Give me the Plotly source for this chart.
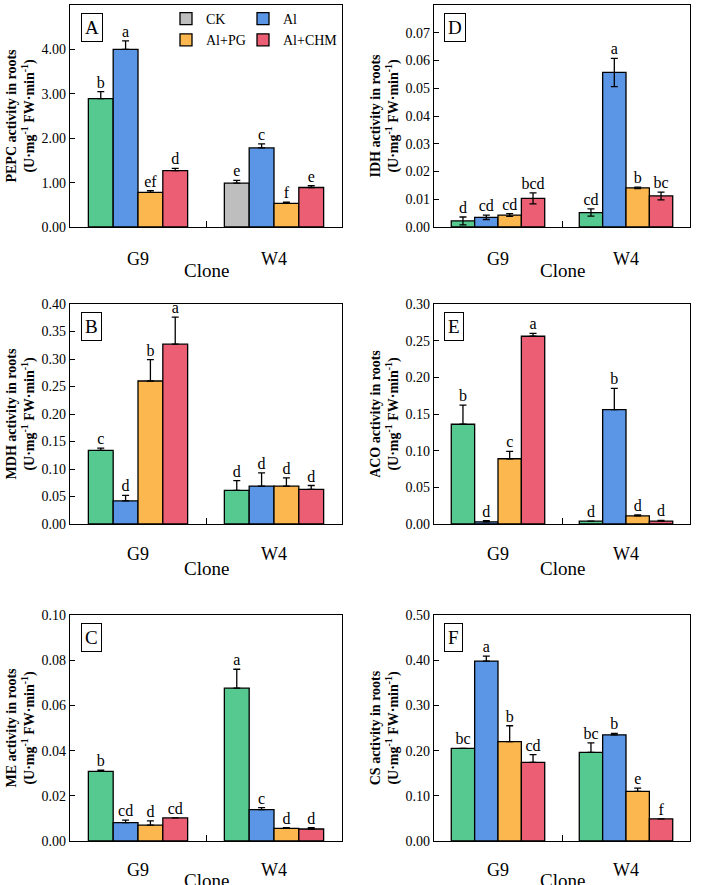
import plotly.graph_objects as go
from plotly.subplots import make_subplots

clones = ["G9", "W4"]
treatments = ["CK", "Al", "Al+PG", "Al+CHM"]
colors = ["#55C98F", "#5B95E6", "#FDB74F", "#EB5E73"]
ck_gray = "#BEBEBE"

# means per treatment (rows: CK, Al, Al+PG, Al+CHM; cols: G9, W4)
pepc_mean = [[2.89, 0.99], [4.00, 1.78], [0.78, 0.53], [1.27, 0.89]]
pepc_err = [[0.16, 0.06], [0.19, 0.09], [0.04, 0.03], [0.05, 0.04]]
pepc_let = [["b", "e"], ["a", "c"], ["ef", "f"], ["d", "e"]]

idh_mean = [[0.0022, 0.0052], [0.0035, 0.0557], [0.0043, 0.0141], [0.0103, 0.0112]]
idh_err = [[0.0014, 0.0013], [0.0008, 0.0051], [0.0005, 0.0003], [0.0020, 0.0014]]
idh_let = [["d", "cd"], ["cd", "a"], ["cd", "b"], ["bcd", "bc"]]

mdh_mean = [[0.134, 0.061], [0.042, 0.069], [0.260, 0.069], [0.327, 0.063]]
mdh_err = [[0.004, 0.018], [0.010, 0.024], [0.039, 0.015], [0.049, 0.007]]
mdh_let = [["c", "d"], ["d", "d"], ["b", "d"], ["a", "d"]]

aco_mean = [[0.136, 0.004], [0.003, 0.156], [0.089, 0.011], [0.256, 0.004]]
aco_err = [[0.026, 0.0], [0.0015, 0.029], [0.010, 0.0015], [0.004, 0.001]]
aco_let = [["b", "d"], ["d", "b"], ["c", "d"], ["a", "d"]]

me_mean = [[0.0308, 0.0676], [0.0081, 0.0139], [0.0070, 0.0056], [0.0102, 0.0053]]
me_err = [[0.0005, 0.0084], [0.0011, 0.0009], [0.0019, 0.0003], [0.0, 0.0006]]
me_let = [["b", "a"], ["cd", "c"], ["d", "d"], ["cd", "d"]]

cs_mean = [[0.205, 0.196], [0.398, 0.235], [0.220, 0.110], [0.174, 0.049]]
cs_err = [[0.0, 0.021], [0.011, 0.003], [0.035, 0.007], [0.017, 0.0]]
cs_let = [["bc", "bc"], ["a", "b"], ["b", "e"], ["cd", "f"]]

panels = [
    # (label, enzyme, mean, err, letters, ymax, dtick, symmetric, row, col)
    ("A", "PEPC", pepc_mean, pepc_err, pepc_let, 5.0, 1.0, False, 1, 1),
    ("D", "IDH", idh_mean, idh_err, idh_let, 0.08, 0.01, True, 1, 2),
    ("B", "MDH", mdh_mean, mdh_err, mdh_let, 0.40, 0.05, False, 2, 1),
    ("E", "ACO", aco_mean, aco_err, aco_let, 0.30, 0.05, False, 2, 2),
    ("C", "ME", me_mean, me_err, me_let, 0.10, 0.02, False, 3, 1),
    ("F", "CS", cs_mean, cs_err, cs_let, 0.50, 0.10, False, 3, 2),
]

FONT = "Liberation Serif, Times New Roman, serif"
fig = make_subplots(rows=3, cols=2)

xdom = {1: [70 / 709, 342 / 709], 2: [434 / 709, 690 / 709]}
ydom = {1: [1 - 227 / 885, 1 - 5 / 885], 2: [1 - 524 / 885, 1 - 304 / 885], 3: [1 - 841 / 885, 1 - 615 / 885]}
tick_standoff = {1: 15, 2: 13, 3: 12}
clone_shift = {1: -43, 2: -44, 3: -39}

for (lab, enz, mean, err, lets, ymax, dtick, sym, r, c) in panels:
    is_a = lab == "A"
    n = (r - 1) * 2 + c
    xref = "x domain" if n == 1 else f"x{n} domain"
    yref = "y domain" if n == 1 else f"y{n} domain"
    for i, t in enumerate(treatments):
        xs = list(clones)
        ys = list(mean[i])
        es = list(err[i])
        cols = [colors[i], colors[i]]
        if is_a and i == 0:
            # W4 control drawn gray in panel A; list W4 first so legend swatch is gray
            xs = xs[::-1]
            ys = ys[::-1]
            es = es[::-1]
            cols = [ck_gray, colors[0]]
        ed = dict(type="data", array=es, visible=True, color="black", thickness=1.3, width=3.5)
        if not sym:
            ed["arrayminus"] = [0] * len(es)
        fig.add_trace(
            go.Bar(
                x=xs, y=ys, name=t, error_y=ed,
                marker=dict(color=cols, line=dict(color="black", width=1.3)),
                showlegend=is_a,
                legend="legend" if i % 2 == 0 else "legend2",
            ),
            row=r, col=c,
        )
    for i, t in enumerate(treatments):
        tops = [m + e for m, e in zip(mean[i], err[i])]
        fig.add_trace(
            go.Scatter(
                x=clones, y=tops, mode="text", text=lets[i], textposition="top center",
                textfont=dict(family=FONT, size=16, color="black"),
                showlegend=False, hoverinfo="skip", cliponaxis=False,
            ),
            row=r, col=c,
        )
    ticks = [k * dtick for k in range(int(round(ymax / dtick)) + 1)]
    fig.update_yaxes(
        range=[0, ymax], tickvals=ticks, ticktext=[f"{v:.2f}" for v in ticks],
        ticks="inside", ticklen=5, tickwidth=1.3, tickcolor="black",
        showline=True, linecolor="black", linewidth=1.3, mirror=True,
        showgrid=False, zeroline=False, domain=ydom[r],
        tickfont=dict(family=FONT, size=14, color="black"),
        title=dict(text=f"<b>{enz} activity in roots<br>(U·mg<sup>-1</sup> FW·min<sup>-1</sup>)</b>",
                   font=dict(family=FONT, size=14, color="black"), standoff=3),
        automargin=False,
        row=r, col=c,
    )
    fig.update_xaxes(
        type="category", categoryorder="array", categoryarray=clones,
        tickson="boundaries", ticks="inside", ticklen=6, tickwidth=1.3, tickcolor="black",
        showline=True, linecolor="black", linewidth=1.3, mirror=True,
        showgrid=False, domain=xdom[c], ticklabelstandoff=tick_standoff[r],
        tickfont=dict(family=FONT, size=18, color="black"),
        automargin=False,
        row=r, col=c,
    )
    fig.add_annotation(
        text="Clone", xref=xref, yref=yref, x=0.5, y=0, yshift=clone_shift[r],
        xanchor="center", yanchor="middle", showarrow=False,
        font=dict(family=FONT, size=19, color="black"),
    )
    fig.add_annotation(
        text=lab, xref=xref, yref=yref,
        x=0.04, y=0.965, xanchor="left", yanchor="top", showarrow=False,
        font=dict(family=FONT, size=19, color="black"),
        bordercolor="black", borderwidth=1, borderpad=3, bgcolor="white",
    )

fig.update_layout(
    width=709, height=885,
    margin=dict(l=0, r=0, t=0, b=0),
    paper_bgcolor="white", plot_bgcolor="white",
    barmode="group", bargap=0.27, bargroupgap=0,
    scattermode="group", scattergap=0.27,
    font=dict(family=FONT, color="black"),
    legend=dict(x=166 / 709, y=1 - 3 / 885, xanchor="left", yanchor="top",
                font=dict(family=FONT, size=14, color="black"), bgcolor="rgba(0,0,0,0)",
                tracegroupgap=0, itemwidth=30),
    legend2=dict(x=243 / 709, y=1 - 3 / 885, xanchor="left", yanchor="top",
                 font=dict(family=FONT, size=14, color="black"), bgcolor="rgba(0,0,0,0)",
                 tracegroupgap=0, itemwidth=30),
)

fig.write_html("out.html", config={"displayModeBar": False},
               post_script="document.body.style.margin='0';document.body.style.padding='0';")
